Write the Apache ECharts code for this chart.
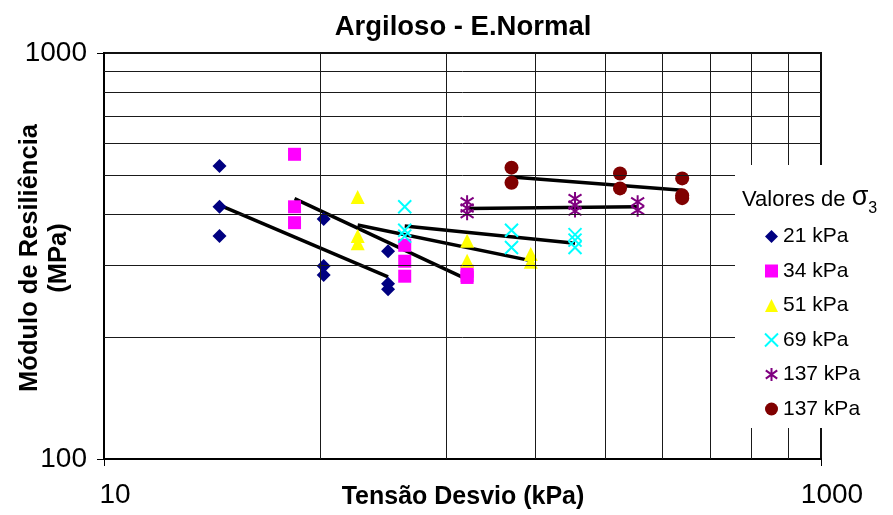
<!DOCTYPE html>
<html>
<head>
<meta charset="utf-8">
<script src="https://cdn.jsdelivr.net/npm/echarts@6/dist/echarts.min.js"></script>
<style>
html,body{margin:0;padding:0;background:#fff;}
#chart{width:893px;height:515px;}
</style>
</head>
<body>
<div id="chart"></div>
<script>
// ---- data ----
const xTickLabels = [10, 1000];
const yTickLabels = [100, 1000];
const xGridValues = [40, 90, 160, 250, 360, 490, 640, 810];
const yGridValues = [200, 300, 400, 500, 600, 700, 800, 900];

const legendNames = ['21 kPa', '34 kPa', '51 kPa', '69 kPa', '137 kPa', '137 kPa\u200B'];

const s21x = [21, 21, 21, 41, 41, 41, 62, 62, 62];
const s21y = [527, 418, 354, 390, 299, 284, 325, 270, 262];
const s34x = [34, 34, 34, 69, 69, 69, 103, 103, 103];
const s34y = [563, 418, 382, 336, 307, 282, 290, 283, 280];
const s51x = [51, 51, 51, 103, 103, 155, 155];
const s51y = [442, 354, 340, 345, 308, 320, 306];
const s69x = [69, 69, 69, 137, 137, 206, 206, 206];
const s69y = [418, 366, 354, 366, 332, 357, 346, 332];
const s137ax = [103, 103, 103, 206, 206, 206, 308, 308];
const s137ay = [430, 415, 402, 438, 422, 408, 430, 410];
const s137bx = [137, 137, 275, 275, 410, 410, 410];
const s137by = [522, 479, 505, 464, 491, 446, 439];

// fitted trend lines (end points)
const fit21x = [21, 62],    fit21y = [422, 281];
const fit34x = [34, 103],   fit34y = [438, 277];
const fit51x = [51, 155],   fit51y = [377, 308];
const fit69x = [69, 206],   fit69y = [375, 340];
const fit137ax = [103, 308], fit137ay = [414, 418];
const fit137bx = [137, 410], fit137by = [495, 459];

// ---- build ----
const zip = (xs, ys) => xs.map((x, i) => [x, ys[i]]);
const FONT = '"Liberation Sans", Arial, sans-serif';

const scatterDefs = [
  {x: s21x, y: s21y, symbol: 'diamond', size: 14, style: {color: '#000080', opacity: 1}},
  {x: s34x, y: s34y, symbol: 'rect', size: 13, style: {color: '#FF00FF', opacity: 1}},
  {x: s51x, y: s51y, symbol: 'triangle', size: 14, style: {color: '#FFFF00', opacity: 1}},
  {x: s69x, y: s69y, symbol: 'path://M0,0L10,10M10,0L0,10', size: 13,
    style: {color: 'rgba(0,0,0,0)', borderColor: '#00FFFF', borderWidth: 2, opacity: 1}},
  {x: s137ax, y: s137ay, symbol: 'path://M5,0L5,10M0.6,1.8L9.4,8.2M0.6,8.2L9.4,1.8', size: 13,
    style: {color: 'rgba(0,0,0,0)', borderColor: '#800080', borderWidth: 2, opacity: 1}},
  {x: s137bx, y: s137by, symbol: 'circle', size: 14, style: {color: '#800000', opacity: 1}}
];

const fits = [
  [fit21x, fit21y], [fit34x, fit34y], [fit51x, fit51y],
  [fit69x, fit69y], [fit137ax, fit137ay], [fit137bx, fit137by]
];

const series = [];
// gridlines carrier
series.push({
  type: 'line', name: 'grid', data: [[10, 100]], symbol: 'none', showSymbol: false,
  lineStyle: {width: 0}, silent: true, z: 1,
  markLine: {
    silent: true, symbol: ['none', 'none'], label: {show: false},
    lineStyle: {color: '#1a1a1a', width: 1, type: 'solid', opacity: 1},
    emphasis: {disabled: true},
    data: xGridValues.map(v => ({xAxis: v})).concat(yGridValues.map(v => ({yAxis: v})))
  }
});
fits.forEach(f => {
  series.push({
    type: 'line', data: zip(f[0], f[1]), symbol: 'none', showSymbol: false,
    lineStyle: {color: '#000', width: 3.5, opacity: 1}, silent: true, z: 3
  });
});
scatterDefs.forEach((d, i) => {
  series.push({
    type: 'scatter', name: legendNames[i], data: zip(d.x, d.y),
    symbol: d.symbol, symbolSize: d.size, itemStyle: d.style, z: 4
  });
});

const chart = echarts.init(document.getElementById('chart'), null, {renderer: 'canvas'});
chart.setOption({
  animation: false,
  backgroundColor: '#fff',
  title: {
    text: 'Argiloso - E.Normal', left: 458, top: 8, textAlign: 'center',
    textStyle: {fontFamily: FONT, fontWeight: 'bold', fontSize: 27.5, color: '#000'}
  },
  grid: {left: 104, right: 72, top: 53, bottom: 56, show: true, containLabel: false,
    outerBoundsMode: 'none',
    borderColor: '#111', borderWidth: 2, backgroundColor: 'rgba(0,0,0,0)'},
  xAxis: {
    type: 'log', logBase: 10, min: 10, max: 1000,
    axisLine: {show: true, lineStyle: {color: '#000', width: 2}},
    axisTick: {show: true, inside: false, length: 7, customValues: xTickLabels,
      lineStyle: {color: '#000', width: 1}},
    axisLabel: {customValues: xTickLabels, fontFamily: FONT, fontSize: 28, color: '#000', margin: 22,
      padding: [0, 0, 0, 22],
      formatter: v => (xTickLabels.indexOf(Math.round(v)) >= 0 ? String(Math.round(v)) : '')},
    splitLine: {show: false}, minorTick: {show: false}, minorSplitLine: {show: false}
  },
  yAxis: {
    type: 'log', logBase: 10, min: 100, max: 1000,
    axisLine: {show: true, lineStyle: {color: '#000', width: 2}},
    axisTick: {show: true, inside: false, length: 7, customValues: yTickLabels,
      lineStyle: {color: '#000', width: 1}},
    axisLabel: {customValues: yTickLabels, fontFamily: FONT, fontSize: 28, color: '#000', margin: 17,
      formatter: v => String(Math.round(v))},
    splitLine: {show: false}
  },
  legend: {
    data: legendNames, orient: 'vertical', left: 759, top: 221,
    itemWidth: 13, itemHeight: 13, itemGap: 13.5, z: 20,
    textStyle: {fontFamily: FONT, fontSize: 21, color: '#000'},
    formatter: n => n.replace('\u200B', ''),
    selectedMode: false
  },
  graphic: [
    {type: 'rect', z: 10, shape: {x: 735, y: 165, width: 158, height: 263},
      style: {fill: '#fff'}},
    {type: 'text', z: 20, left: 742, top: 184,
      style: {
        text: '{a|Valores de }{s|σ}{b|3}',
        rich: {
          a: {fontFamily: FONT, fontSize: 22, color: '#000', verticalAlign: 'bottom'},
          s: {fontFamily: FONT, fontSize: 27, color: '#000', verticalAlign: 'bottom'},
          b: {fontFamily: FONT, fontSize: 16, color: '#000', verticalAlign: 'bottom', padding: [0, 0, -6, 0]}
        }
      }},
    {type: 'text', z: 20, x: 463, y: 497,
      style: {text: 'Tensão Desvio (kPa)', fontFamily: FONT, fontWeight: 'bold', fontSize: 25,
        fill: '#000', align: 'center', verticalAlign: 'middle'}},
    {type: 'text', z: 20, x: 30, y: 258, rotation: Math.PI / 2,
      style: {text: 'Módulo de Resiliência', fontFamily: FONT, fontWeight: 'bold', fontSize: 25.5,
        fill: '#000', align: 'center', verticalAlign: 'middle'}},
    {type: 'text', z: 20, x: 59, y: 258, rotation: Math.PI / 2,
      style: {text: '(MPa)', fontFamily: FONT, fontWeight: 'bold', fontSize: 25.5,
        fill: '#000', align: 'center', verticalAlign: 'middle'}}
  ],
  series: series
});
</script>
</body>
</html>
